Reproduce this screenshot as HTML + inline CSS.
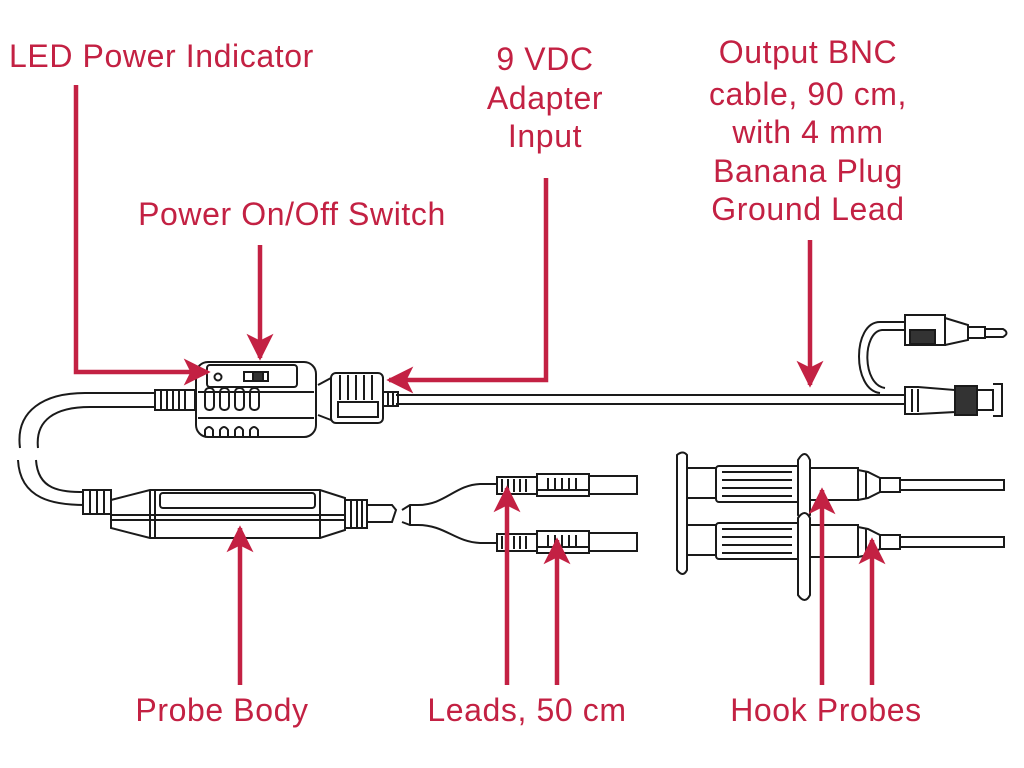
<!DOCTYPE html>
<html><head><meta charset="utf-8"><style>
html,body{margin:0;padding:0;background:#fff;width:1024px;height:768px;overflow:hidden}
text{font-family:"Liberation Sans",sans-serif;font-size:32px;letter-spacing:0.6px;fill:#c32143}
</style></head><body>
<svg width="1024" height="768" viewBox="0 0 1024 768" xmlns="http://www.w3.org/2000/svg">
<defs>
<marker id="ah" viewBox="0 0 10 10" refX="9" refY="5" markerWidth="6" markerHeight="6.5" orient="auto" markerUnits="strokeWidth">
<path d="M0,0 L10,5 L0,10 L2.5,5 z" fill="#c32143"/></marker>
</defs>
<text x="9" y="67">LED Power Indicator</text>
<g text-anchor="middle">
<text x="545" y="70">9 VDC</text>
<text x="545" y="109">Adapter</text>
<text x="545" y="147">Input</text>
<text x="808" y="63">Output BNC</text>
<text x="808" y="105">cable, 90 cm,</text>
<text x="808" y="143">with 4 mm</text>
<text x="808" y="182">Banana Plug</text>
<text x="808" y="220">Ground Lead</text>
<text x="292" y="225">Power On/Off Switch</text>
<text x="222" y="721">Probe Body</text>
<text x="527" y="721">Leads, 50 cm</text>
<text x="826" y="721">Hook Probes</text>
</g>

<g fill="none" stroke="#1a1a1a" stroke-width="2">
<path d="M396,395 H905 M396,404 H905"/>
<path d="M905,322 H880 C852,322 852,390 880,393 M905,330 H882 C862,332 862,385 885,388" />
<rect x="905" y="315" width="40" height="30" fill="#fff"/>
<rect x="910" y="330" width="25" height="14" fill="#333"/>
<path d="M945,318 L968,325 V340 L945,345 M968,327 H985 V338 H968 M985,329 H1003 Q1010,333 1003,337 H985"/>
<path d="M905,387 H918 L955,390 V412 L918,414 H905 Z" fill="#fff"/>
<path d="M912,389 V412 M918,389 V412"/>
<rect x="955" y="386" width="22" height="29" fill="#333"/>
<path d="M977,390 H993 V410 H977 M993,384 H1002 V416 H993"/>
<rect x="331" y="373" width="52" height="50" rx="5" fill="#fff"/>
<path d="M340,375 V400 M348,375 V400 M356,375 V400 M364,375 V400 M372,375 V400"/>
<rect x="338" y="402" width="40" height="15"/>
<path d="M318,385 L331,378 M318,415 L331,420"/>
<path d="M383,392 H398 V406 H383 M388,392 V406 M393,392 V406"/>
<rect x="196" y="362" width="120" height="75" rx="12" fill="#fff"/>
<rect x="207" y="365" width="90" height="22" rx="3"/>
<circle cx="218" cy="377" r="3.5"/>
<rect x="244" y="372" width="24" height="9" fill="#fff"/>
<rect x="253" y="372" width="10" height="9" fill="#333"/>
<path d="M198,392 H314 M198,418 H314"/>
<rect x="205" y="388" width="9" height="22" rx="4"/><rect x="220" y="388" width="9" height="22" rx="4"/>
<rect x="235" y="388" width="9" height="22" rx="4"/><rect x="250" y="388" width="9" height="22" rx="4"/>
<path d="M205,437 V430 Q209,424 213,430 V437 M220,437 V430 Q224,424 228,430 V437 M235,437 V430 Q239,424 243,430 V437 M250,437 V430 Q254,424 258,430 V437"/>
<rect x="155" y="390" width="40" height="20" fill="#fff"/>
<path d="M161,390 V410 M167,390 V410 M173,390 V410 M179,390 V410 M185,390 V410"/>
<path d="M155,393 H85 C45,393 15,410 20,448 M155,407 H90 C55,407 35,420 38,448"/>
<path d="M18,460 C20,500 55,505 85,505 M36,460 C38,490 60,492 85,492"/>
<rect x="83" y="490" width="28" height="24" fill="#fff"/>
<path d="M90,490 V514 M97,490 V514 M104,490 V514"/>
<path d="M111,500 L150,490 H320 L345,498 V530 L320,538 H150 L111,528 Z" fill="#fff"/>
<rect x="160" y="493" width="155" height="15" rx="3"/>
<path d="M150,490 V538 M155,490 V538 M320,490 V538 M111,515 H345 M111,520 H345"/>
<rect x="345" y="500" width="22" height="28" fill="#fff"/>
<path d="M351,500 V528 M357,500 V528 M362,500 V528"/>
<path d="M367,505 H392 L396,510 L392,522 H367"/>
<path d="M402,510 L410,505 H418 C445,505 455,485 480,484 H497 M402,522 L410,525 H418 C445,525 455,542 480,543 H497 M410,505 V525"/>
<g id="lead">
<rect x="497" y="477" width="40" height="17" fill="#fff"/>
<path d="M502,479 V492 M508,479 V492 M514,479 V492 M520,479 V492 M526,479 V492"/>
<rect x="537" y="474" width="52" height="22" fill="#fff"/>
<path d="M548,478 V490 M555,478 V490 M562,478 V490 M569,478 V490 M576,478 V490 M537,490 H589"/>
<rect x="589" y="476" width="48" height="18" fill="#fff"/>
</g>
<use href="#lead" y="57"/>
<g id="hook">
<path d="M683,468 H718 M683,498 H718"/>
<rect x="716" y="466" width="84" height="36" rx="3" fill="#fff"/>
<path d="M722,472 H792 M722,480 H792 M722,488 H792 M722,496 H792"/>
<path d="M805,468 H858 V500 H805 M858,470 L868,472 L880,478 V492 L868,498 L858,500 M866,472 V498 M880,478 H900 V492 H880 M900,480 H1004 V490 H900"/>
</g>
<use href="#hook" y="57"/>
<path d="M677,455 Q683,450 687,455 V570 Q683,578 677,570 Z" fill="#fff"/>
<path d="M798,460 Q805,448 810,460 V515 Q805,522 798,515 Z" fill="#fff"/>
<path d="M798,518 Q805,508 810,518 V595 Q805,605 798,595 Z" fill="#fff"/>
</g>

<g fill="none" stroke="#c32143" stroke-width="4.5">
<path d="M76,85 V372 H208" marker-end="url(#ah)"/>
<path d="M260,245 V358" marker-end="url(#ah)"/>
<path d="M546,178 V380 H389" marker-end="url(#ah)"/>
<path d="M810,240 V385" marker-end="url(#ah)"/>
<path d="M240,685 V528" marker-end="url(#ah)"/>
<path d="M507,685 V488" marker-end="url(#ah)"/>
<path d="M557,685 V540" marker-end="url(#ah)"/>
<path d="M822,685 V490" marker-end="url(#ah)"/>
<path d="M872,685 V540" marker-end="url(#ah)"/>
</g>
</svg>
</body></html>
